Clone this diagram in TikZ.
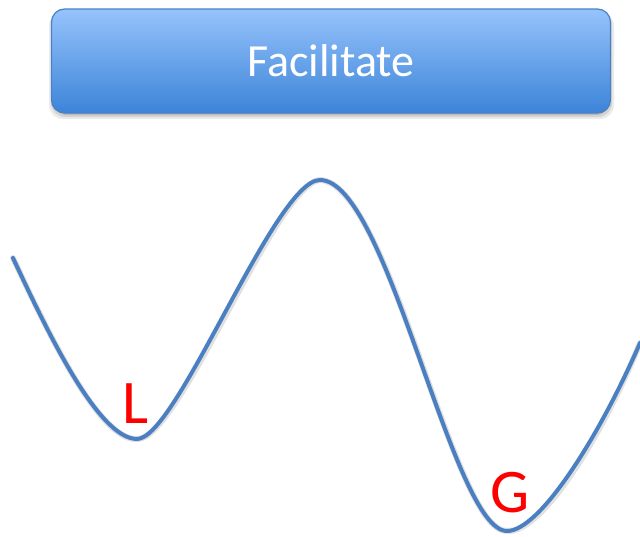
\documentclass[tikz,border=0pt]{standalone}
\usepackage{fontspec}
\setmainfont{Carlito}
\definecolor{boxtop}{HTML}{96C3FC}
\definecolor{boxbot}{HTML}{3C84D8}
\definecolor{boxline}{HTML}{4A80C4}
\definecolor{curveblue}{HTML}{4A7FC1}
\tikzset{
  titlebox/.style={rounded corners=13pt, minimum width=559pt, minimum height=104pt,
    top color=boxtop, bottom color=boxbot, draw=boxline, line width=1.2pt,
    text=white, font=\fontsize{46}{50}\selectfont, inner sep=0pt},
  boxshadow/.style={rounded corners=14pt, fill=black},
  wellcurve/.style={draw=curveblue, line width=4pt, line cap=round, line join=round},
  curveshadow/.style={draw=black, opacity=0.12, line width=6pt, line cap=round},
  statelabel/.style={text=red, font=\fontsize{62}{64}\selectfont, inner sep=0pt}
}
\begin{document}
\begin{tikzpicture}[x=1pt, y=-1pt]
\useasboundingbox (0,0) rectangle (640,536);
% shadow of the box
\fill[boxshadow, opacity=0.08] (49,12) rectangle (614,119);
\fill[boxshadow, opacity=0.10] (51,12) rectangle (612,117);
\fill[boxshadow, opacity=0.12] (53,12) rectangle (610,115);
\node[titlebox] (box) at (331,61) {Facilitate};
% energy landscape
\coordinate (s) at (13,258);
\coordinate (lmin) at (137,439);
\coordinate (peak) at (320,180);
\coordinate (gmin) at (507,531);
\coordinate (e) at (640,343);
\def\wellpath{(s) .. controls (43,322) and (97,439) .. (lmin)
  .. controls (177,439) and (275,180) .. (peak)
  .. controls (388,180) and (452,531) .. (gmin)
  .. controls (540,531) and (600,435) .. (e)}
\begin{scope}[shift={(1.5,2.5)}]
\draw[curveshadow] \wellpath;
\end{scope}
\draw[wellcurve] \wellpath;
\node[statelabel] (L) at (136,404) {L};
\node[statelabel] (G) at (510,493) {G};
\end{tikzpicture}
\end{document}
